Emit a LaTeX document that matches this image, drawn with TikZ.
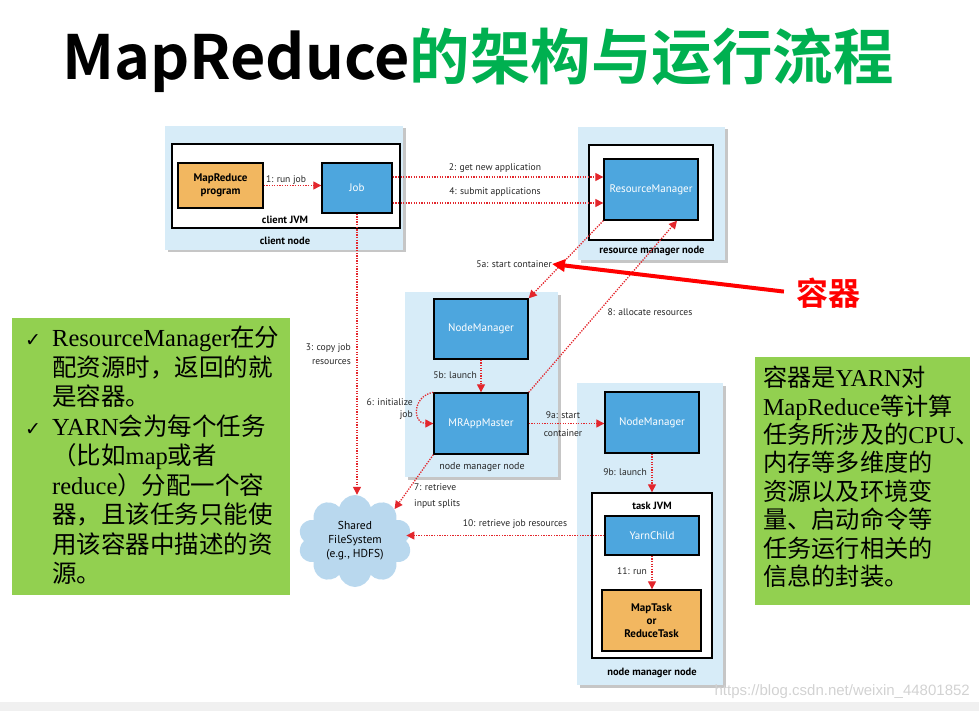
\documentclass[tikz,border=0pt]{standalone}
\usepackage{fontspec}
\usepackage{tikz}
\usetikzlibrary{arrows.meta,shapes.symbols,shadows}
\setmainfont{Liberation Serif}
\newfontfamily\diagfont{PT Sans}
\newfontfamily\cjkfont{Noto Sans CJK SC}[BoldFont={Noto Sans CJK SC Bold}]
\newfontfamily\symfont{DejaVu Sans}
\newfontfamily\webfont{Liberation Sans}
\newcommand{\zh}[1]{{\cjkfont #1}}
\newcommand{\tick}{\makebox[27pt][l]{\symfont\fontsize{19}{19}\selectfont ✓}}
\newcommand{\notick}{\hspace*{27pt}}
\definecolor{panelblue}{HTML}{D7ECF8}
\definecolor{boxblue}{HTML}{4DA6DE}
\definecolor{taskorange}{HTML}{F2B760}
\definecolor{flowred}{HTML}{E3262C}
\definecolor{notegreen}{HTML}{92D050}
\definecolor{titlegreen}{HTML}{00B050}
\definecolor{cloudblue}{HTML}{B9D8EE}
\begin{document}
\begin{tikzpicture}[x=1pt,y=-1pt]
\tikzstyle{every node}+=[inner sep=0pt]
\tikzstyle{panel}=[fill=panelblue, drop shadow={shadow xshift=2.5pt,shadow yshift=-2.5pt,fill=black!50,opacity=.45}]
\tikzstyle{jvmbox}=[draw=black, line width=1.4pt, fill=white]
\tikzstyle{bluebox}=[draw=black, line width=1.4pt, fill=boxblue, text=white, font=\diagfont\fontsize{11}{13}\selectfont]
\tikzstyle{orangebox}=[draw=black, line width=1.4pt, fill=taskorange, align=center, font=\diagfont\bfseries\fontsize{11}{13}\selectfont]
\tikzstyle{boxcaption}=[text=black, font=\diagfont\bfseries\fontsize{10.5}{12}\selectfont]
\tikzstyle{lbl}=[text=black!85, font=\diagfont\fontsize{9.6}{13.5}\selectfont]
\tikzstyle{flow}=[draw=flowred, line width=1.3pt, dash pattern=on 1.3pt off 1.3pt, -{Triangle[length=8pt,width=8pt]}]
\tikzstyle{note}=[fill=notegreen]
\useasboundingbox (0,0) rectangle (979,711);
\fill[gray!12] (0,702) rectangle (979,711);
\node[anchor=base west, font=\cjkfont\bfseries\fontsize{61}{61}\selectfont] (title) at (62,80) {MapReduce{\color{titlegreen}\fontsize{60.5}{61}\selectfont 的架构与运行流程}};
\node[panel, minimum width=238pt, minimum height=124pt] (clientnode) at (284,188) {};
\node[jvmbox, minimum width=228pt, minimum height=84pt] (clientjvm) at (286,186) {};
\node[orangebox, minimum width=85pt, minimum height=45pt] (mrprog) at (220.5,185.5) {MapReduce\\program};
\node[bluebox, minimum width=70pt, minimum height=50pt] (job) at (357,188) {Job};
\node[boxcaption] (jvmcap) at (285,220) {client JVM};
\node[boxcaption] (clientcap) at (285,241) {client node};
\node[panel, minimum width=147pt, minimum height=133pt] (rmnode) at (651.5,193.5) {};
\node[jvmbox, minimum width=124pt, minimum height=95pt] (rmjvm) at (651,192.5) {};
\node[bluebox, minimum width=94pt, minimum height=61pt] (rm) at (651,189.5) {ResourceManager};
\node[boxcaption] (rmcap) at (652,251) {resource manager node};
\node[panel, minimum width=153pt, minimum height=185pt] (nmnodeA) at (481.5,384.5) {};
\node[bluebox, minimum width=94pt, minimum height=60pt] (nmA) at (481,329) {NodeManager};
\node[bluebox, minimum width=94pt, minimum height=61pt] (am) at (481,423.5) {MRAppMaster};
\node[lbl, font=\diagfont\fontsize{10}{12}\selectfont] (nmcapA) at (482,467) {node manager node};
\node[panel, minimum width=146pt, minimum height=302pt] (nmnodeB) at (650,534) {};
\node[bluebox, minimum width=94pt, minimum height=61pt] (nmB) at (652,422.5) {NodeManager};
\node[jvmbox, minimum width=120pt, minimum height=165pt] (taskjvm) at (652,575.5) {};
\node[boxcaption] (taskcap) at (652,506) {task JVM};
\node[bluebox, minimum width=94pt, minimum height=39pt] (yarnchild) at (652,535.5) {YarnChild};
\node[orangebox, minimum width=99pt, minimum height=61pt] (task) at (651.5,620.5) {MapTask\\or\\ReduceTask};
\node[boxcaption] (nmcapB) at (652,673) {node manager node};
\node[cloud, cloud puffs=10, aspect=1.3, fill=cloudblue, minimum width=114pt, minimum height=92pt, align=center, font=\diagfont\fontsize{11.5}{14}\selectfont] (hdfs) at (355,541) {Shared\\FileSystem\\(e.g., HDFS)};
\node[lbl] (l1) at (286,180) {1: run job};
\node[lbl] (l2) at (495,168) {2: get new application};
\node[lbl] (l4) at (495,192) {4: submit applications};
\node[lbl, align=right, anchor=east] (l3) at (351,354) {3: copy job\\resources};
\node[lbl, anchor=east] (l5a) at (552,264) {5a: start container};
\node[lbl, anchor=east] (l5b) at (477,375) {5b: launch};
\node[lbl, align=right, anchor=east, font=\diagfont\fontsize{9.6}{12}\selectfont] (l6) at (413,409) {6: initialize\\job};
\node[lbl, align=left, anchor=west, font=\diagfont\fontsize{9.6}{16}\selectfont] (l7) at (414,496) {7: retrieve\\input splits};
\node[lbl] (l8) at (650,312) {8: allocate resources};
\node[lbl, align=center, font=\diagfont\fontsize{9.6}{18}\selectfont] (l9a) at (563,424) {9a: start\\container};
\node[lbl, anchor=east] (l9b) at (647,472) {9b: launch};
\node[lbl] (l10) at (515,524) {10: retrieve job resources};
\node[lbl, anchor=east] (l11) at (647,571) {11: run};
\draw[flow] (mrprog.east) -- (mrprog.east -| job.west);
\draw[flow] ([yshift=11pt]job.east) -- ([yshift=11pt]job.east -| rm.west);
\draw[flow] ([yshift=-15pt]job.east) -- ([yshift=-15pt]job.east -| rm.west);
\draw[flow] (job.south) -- (job.south |- hdfs.north);
\draw[flow] (rm.south west) -- (nmA.north east);
\draw[flow] (nmA.south) -- (am.north);
\draw[flow] (am.north west) to[out=190,in=180,looseness=1.75] (am.west);
\draw[flow] (am.north east) -- ([xshift=26pt]rm.south);
\draw[flow] (am.south west) -- (hdfs.north east);
\draw[flow] (am.east) -- (am.east -| nmB.west);
\draw[flow] (nmB.south) -- (taskjvm.north);
\draw[flow] (yarnchild.west) -- (yarnchild.west -| hdfs.east);
\draw[flow] (yarnchild.south) -- (yarnchild.south |- task.north);
\node[text=red, font=\cjkfont\bfseries\fontsize{32}{32}\selectfont] (rq) at (828,293) {容器};
\draw[red, line width=4pt, -{Triangle[length=13pt,width=12pt]}, shorten <=12pt] (rq.west) -- (l5a.east);
\node[note, minimum width=278pt, minimum height=277pt] (leftnote) at (151,456.5) {};
\node[anchor=north west, align=left, font=\fontsize{24.5}{29.5}\selectfont] (lefttext) at (25,326) {\tick ResourceManager\zh{在分}\\
\notick\zh{配资源时，返回的就}\\
\notick\zh{是容器。}\\
\tick YARN\zh{会为每个任务}\\
\notick\zh{（比如}map\zh{或者}\\
\notick reduce\zh{）分配一个容}\\
\notick\zh{器，且该任务只能使}\\
\notick\zh{用该容器中描述的资}\\
\notick\zh{源。}};
\node[note, minimum width=215pt, minimum height=248pt] (rightnote) at (862.5,481) {};
\node[anchor=north west, align=left, font=\fontsize{24.2}{28.4}\selectfont] (righttext) at (763,366) {\zh{容器是}YARN\zh{对}\\
MapReduce\zh{等计算}\\
\zh{任务所涉及的}CPU\zh{、}\\
\zh{内存等多维度的}\\
\zh{资源以及环境变}\\
\zh{量、启动命令等}\\
\zh{任务运行相关的}\\
\zh{信息的封装。}};
\node[anchor=east, text=gray!35, font=\webfont\fontsize{15}{15}\selectfont] (mark) at (970,692) {https://blog.csdn.net/weixin\_44801852};
\end{tikzpicture}
\end{document}
